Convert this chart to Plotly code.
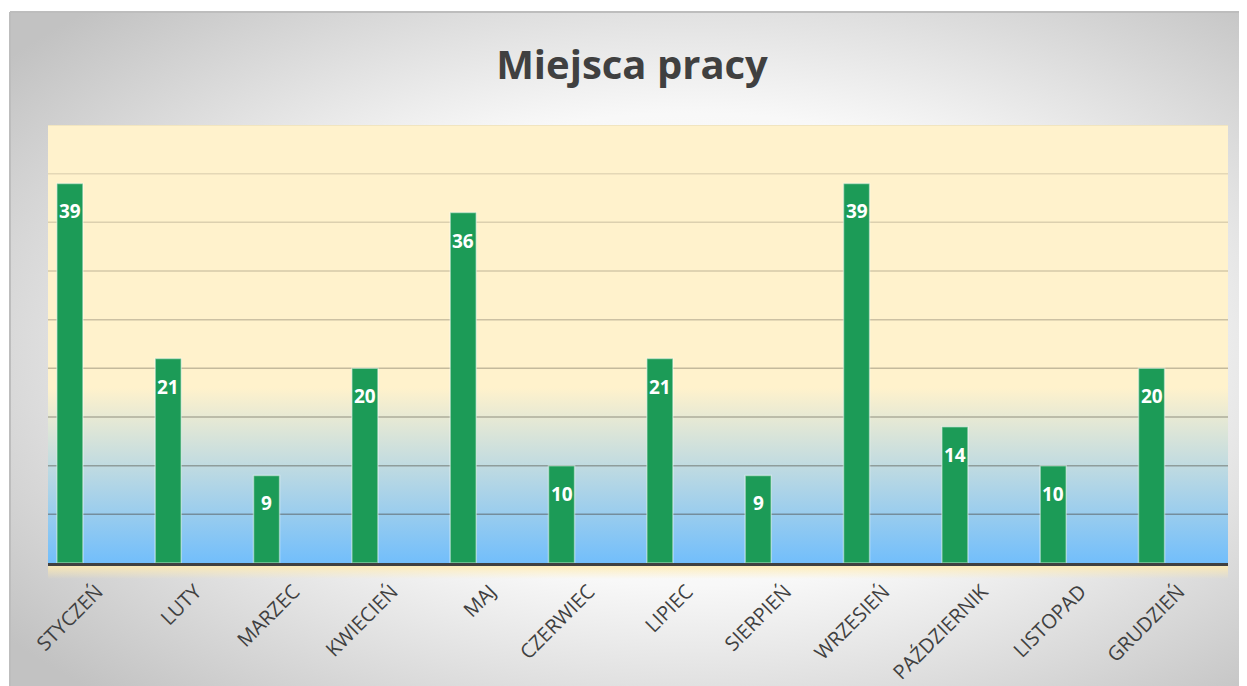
import base64
import plotly.graph_objects as go

# ---------------- data ----------------
months = ["STYCZEŃ", "LUTY", "MARZEC", "KWIECIEŃ", "MAJ", "CZERWIEC",
          "LIPIEC", "SIERPIEŃ", "WRZESIEŃ", "PAŹDZIERNIK", "LISTOPAD", "GRUDZIEŃ"]
values = [39, 21, 9, 20, 36, 10, 21, 9, 39, 14, 10, 20]
grid_values = [5, 10, 15, 20, 25, 30, 35, 40, 45]
title_text = "Miejsca pracy"

# ---------------- layout geometry ----------------
PAGE_PAD = 8  # default body margin of the html page
W, H = 1247 - PAGE_PAD, 686 - PAGE_PAD
ML, MR, MT, MB = 48 - PAGE_PAD, 19, 125 - PAGE_PAD, 123
PW, PH = W - ML - MR, H - MT - MB
BAR_OFFSET, BAR_WIDTH = -0.41, 0.265
FRAME_X, FRAME_Y = 10 - PAGE_PAD, 12 - PAGE_PAD


def svg_uri(svg):
    return "data:image/svg+xml;base64," + base64.b64encode(svg.encode("utf-8")).decode("ascii")


bg_svg = """<svg xmlns='http://www.w3.org/2000/svg' width='1237' height='674' viewBox='0 0 1237 674' preserveAspectRatio='none'>
<defs><radialGradient id='g' cx='0.55' cy='0.5' r='0.7'>
<stop offset='0' stop-color='#FFFFFF'/><stop offset='0.5' stop-color='#F8F8F8'/>
<stop offset='1' stop-color='#C2C2C2'/></radialGradient></defs>
<rect x='0' y='0' width='1237' height='674' fill='url(#g)'/></svg>"""

plot_svg = """<svg xmlns='http://www.w3.org/2000/svg' width='1180' height='438' viewBox='0 0 1180 438' preserveAspectRatio='none'>
<defs><linearGradient id='p' x1='0' y1='0' x2='0' y2='1'>
<stop offset='0' stop-color='#FFF2CC'/><stop offset='0.6' stop-color='#FFF2CC'/>
<stop offset='1' stop-color='#72BEFB'/></linearGradient></defs>
<rect x='0' y='0' width='1180' height='438' fill='url(#p)'/></svg>"""

glow_svg = """<svg xmlns='http://www.w3.org/2000/svg' width='1180' height='20' viewBox='0 0 1180 20' preserveAspectRatio='none'>
<defs><linearGradient id='q' x1='0' y1='0' x2='0' y2='1'>
<stop offset='0' stop-color='#FFEBB0' stop-opacity='0.9'/>
<stop offset='1' stop-color='#FFEBB0' stop-opacity='0'/></linearGradient></defs>
<rect x='0' y='0' width='1180' height='20' fill='url(#q)'/></svg>"""

fig = go.Figure()
fig.add_trace(go.Bar(
    x=months, y=values,
    offset=BAR_OFFSET, width=BAR_WIDTH,
    marker=dict(color="#1C9B57", line=dict(color="rgba(255,255,255,0.45)", width=1.5)),
    hoverinfo="x+y", showlegend=False,
))

# data labels
for i, v in enumerate(values):
    fig.add_annotation(x=i + BAR_OFFSET + BAR_WIDTH / 2, y=v, xref="x", yref="y",
                       text=str(v), showarrow=False, yshift=-28,
                       font=dict(family="Open Sans", size=19, color="white", weight="bold"))

# gridlines (darker toward the bottom)
shapes = []
for g in grid_values:
    t = (g - 5) / 40
    a = 0.45 - 0.35 * t
    shapes.append(dict(type="line", xref="paper", yref="y", x0=0, x1=1, y0=g, y1=g,
                       line=dict(color=f"rgba(70,65,55,{a:.3f})", width=1.5), layer="below"))

# frame border (top/left)
fx0 = (FRAME_X - ML) / PW
fy1 = (H - MB - FRAME_Y) / PH
shapes.append(dict(type="line", xref="paper", yref="paper", x0=fx0, x1=(W - ML) / PW,
                   y0=fy1, y1=fy1, line=dict(color="#BDBDBD", width=2), layer="below"))
shapes.append(dict(type="line", xref="paper", yref="paper", x0=fx0, x1=fx0,
                   y0=fy1, y1=-MB / PH, line=dict(color="#BDBDBD", width=2), layer="below"))

images = [
    dict(source=svg_uri(bg_svg), xref="paper", yref="paper", x=fx0, y=fy1,
         sizex=(W - FRAME_X) / PW, sizey=(H - FRAME_Y) / PH, sizing="stretch",
         xanchor="left", yanchor="top", layer="below"),
    dict(source=svg_uri(plot_svg), xref="paper", yref="paper", x=0, y=1,
         sizex=1, sizey=1, sizing="stretch", xanchor="left", yanchor="top", layer="below"),
    dict(source=svg_uri(glow_svg), xref="paper", yref="paper", x=0, y=-2 / PH,
         sizex=1, sizey=14 / PH, sizing="stretch", xanchor="left", yanchor="top", layer="below"),
]

fig.update_layout(
    width=W, height=H,
    margin=dict(l=ML, r=MR, t=MT, b=MB, autoexpand=False),
    paper_bgcolor="white", plot_bgcolor="rgba(0,0,0,0)",
    title=dict(text=title_text, x=(632 - PAGE_PAD) / W, xref="container", xanchor="center",
               y=1 - (65 - PAGE_PAD) / H, yref="container", yanchor="middle",
               font=dict(family="Open Sans", size=40, color="#404040", weight="bold")),
    shapes=shapes, images=images,
    xaxis=dict(type="category", range=[-0.5, len(months) - 0.5], tickangle=-45,
               tickfont=dict(family="Open Sans", size=20, color="#404040"),
               showline=True, linecolor="#404040", linewidth=3, ticks="",
               ticklabelstandoff=6, showgrid=False, zeroline=False, fixedrange=True),
    yaxis=dict(range=[0, 45], showgrid=False, showticklabels=False, zeroline=False,
               showline=False, ticks="", fixedrange=True),
    bargap=0.2,
)

fig.write_html("out.html")
